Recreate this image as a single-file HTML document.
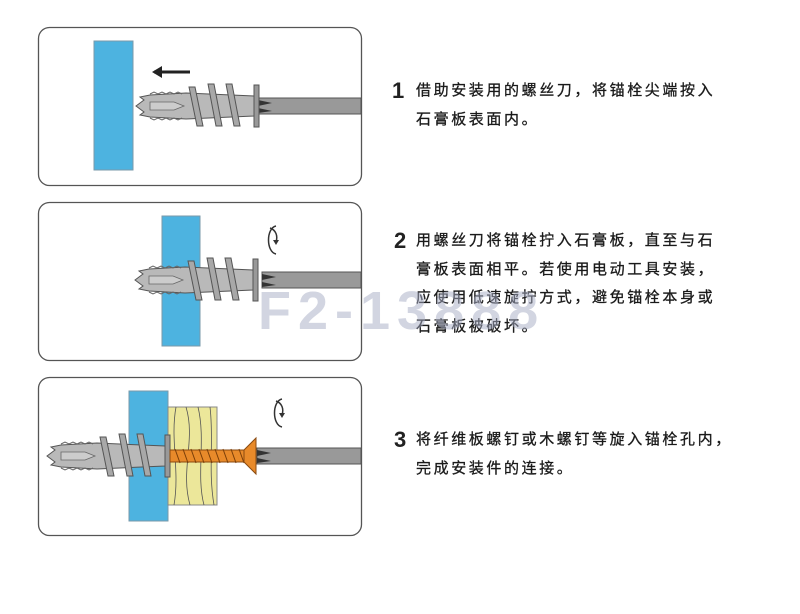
<!DOCTYPE html>
<html><head><meta charset="utf-8"><style>
body{margin:0;background:#fff;width:800px;height:614px;overflow:hidden;position:relative;font-family:"Liberation Sans","Noto Sans CJK SC",sans-serif}
.t{position:absolute;left:416px;font-size:15px;letter-spacing:2.6px;color:#1a1a1a;line-height:28.5px;-webkit-text-stroke:0.3px #1a1a1a}
.n{position:absolute;font-weight:bold;font-size:22px;color:#222;font-family:"Liberation Sans",sans-serif}
.wm{position:absolute;left:258px;top:280px;font-size:54px;font-weight:bold;color:rgba(165,172,195,0.5);letter-spacing:7px;font-family:"Liberation Sans",sans-serif}
</style></head><body>
<svg width="800" height="614" style="position:absolute;left:0;top:0">
<defs>
<g id="anc">
<path d="M0,0 L8,-6 L4,-9 L14,-11 L50,-13 L118,-10 L118,10 L50,13 L14,11 L4,9 L8,6 Z" fill="#b9b9b9" stroke="#555" stroke-width="1"/>
<path d="M14,-4 L38,-4 L48,0 L38,4 L14,4 Z" fill="#ccc" stroke="#666" stroke-width="0.8"/>
<path d="M14,-12 l4,-2 l4,2 l4,-2 l4,2 l4,-2 l4,2 l4,-2 l4,2 M14,12 l4,2 l4,-2 l4,2 l4,-2 l4,2 l4,-2 l4,2 l4,-2" fill="none" stroke="#666" stroke-width="1"/>
<g fill="#a8a8a8" stroke="#555" stroke-width="1">
<path d="M53,-19 L59,-19 L67,20 L61,20 Z"/><path d="M72,-22 L78,-22 L86,20 L80,20 Z"/><path d="M90,-22 L96,-22 L104,20 L98,20 Z"/>
</g>
<rect x="118" y="-21" width="5" height="42" fill="#999" stroke="#555"/>
</g>
<g id="rot"><path d="M6,-14 C-4,-12 -4,12 6,14 M0,-12 C6,-10 8,-4 6,2" fill="none" stroke="#333" stroke-width="1.5"/><path d="M3,0 L9,0 L6,5 Z" fill="#333"/></g>
</defs>
<g fill="#fff" stroke="#555" stroke-width="1.3">
<rect x="38.5" y="27.5" width="323" height="158" rx="11"/>
<rect x="38.5" y="202.5" width="323" height="158" rx="11"/>
<rect x="38.5" y="377.5" width="323" height="158" rx="11"/>
</g>
<rect x="94" y="41" width="39" height="129" fill="#4db3e0" stroke="#7a9aaa"/>
<path d="M154,72 L190,72" stroke="#222" stroke-width="3"/><path d="M152,72 L162,66 L162,78 Z" fill="#222"/>
<rect x="258" y="98" width="103" height="16" fill="#999" stroke="#555"/>
<path d="M258,100 L272,103 L258,106 M258,108 L272,111 L258,113" fill="#333"/>
<use href="#anc" x="136" y="106"/>
<rect x="162" y="216" width="38" height="130" fill="#4db3e0" stroke="#7a9aaa"/>
<rect x="262" y="272" width="99" height="16" fill="#999" stroke="#555"/>
<path d="M262,274 L276,277 L262,280 M262,282 L276,285 L262,287" fill="#333"/>
<use href="#anc" x="135" y="280"/>
<use href="#rot" x="270" y="240"/>
<rect x="129" y="391" width="39" height="130" fill="#4db3e0" stroke="#7a9aaa"/>
<rect x="168" y="407" width="49" height="98" fill="#ece79a" stroke="#888"/>
<g fill="none" stroke="#555" stroke-width="0.8">
<path d="M176,407 C170,440 180,470 174,505"/><path d="M186,407 C196,440 180,470 190,505"/><path d="M198,407 C206,440 196,475 204,505"/><path d="M210,407 C214,440 208,470 214,505"/>
</g>
<use href="#anc" x="47" y="456"/>
<rect x="170" y="450" width="78" height="12" fill="#e88a2a" stroke="#8a4a10"/>
<path d="M175,449 l5,14 M183,449 l5,14 M191,449 l5,14 M199,449 l5,14 M207,449 l5,14 M215,449 l5,14 M223,449 l5,14 M231,449 l5,14 M239,449 l5,14" stroke="#7a3e08" stroke-width="1"/>
<path d="M244,450 L256,438 L256,474 L244,462 Z" fill="#e88a2a" stroke="#8a4a10"/>
<rect x="257" y="448" width="104" height="16" fill="#999" stroke="#555"/>
<path d="M257,450 L271,453 L257,456 M257,458 L271,461 L257,463" fill="#333"/>
<use href="#rot" x="276" y="413"/>
</svg>
<div class="n" style="left:392px;top:78px">1</div>
<div class="t" style="top:77px">借助安装用的螺丝刀，将锚栓尖端按入<br>石膏板表面内。</div>
<div class="n" style="left:394px;top:228px">2</div>
<div class="t" style="top:227px">用螺丝刀将锚栓拧入石膏板，直至与石<br>膏板表面相平。若使用电动工具安装，<br>应使用低速旋拧方式，避免锚栓本身或<br>石膏板被破坏。</div>
<div class="n" style="left:394px;top:427px">3</div>
<div class="t" style="top:426px">将纤维板螺钉或木螺钉等旋入锚栓孔内，<br>完成安装件的连接。</div>
<div class="wm">F2-13888</div>
</body></html>
